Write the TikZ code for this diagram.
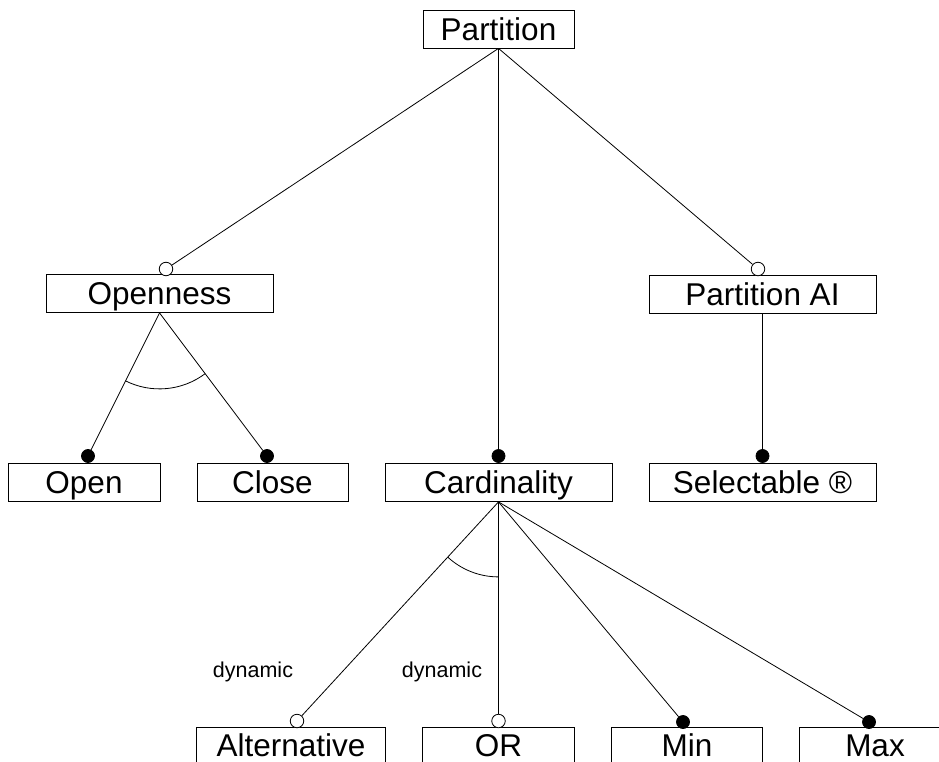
\documentclass[tikz,border=0pt]{standalone}
\usepackage{fontspec}
\setmainfont{Liberation Sans}
\usetikzlibrary{calc}
\begin{document}
\begin{tikzpicture}[x=1pt,y=-1pt,
  boxtext/.style={rectangle, inner sep=0pt,
    minimum height=38pt, text height=22.5pt, text depth=0pt,
    font=\fontsize{31.5}{37}\selectfont},
  box/.style={boxtext, draw, line width=0.8pt},
  opensided/.style={boxtext, minimum height=34pt},
  link/.style={line width=0.8pt},
  ringmark/.style={circle, draw, line width=0.8pt, fill=white, inner sep=0pt, minimum size=13.5pt},
  dotmark/.style={circle, draw, line width=0.8pt, fill=black, inner sep=0pt, minimum size=13pt},
  tag/.style={anchor=base, inner sep=0pt, font=\fontsize{21.5}{26}\selectfont}]
\path[use as bounding box] (0,0) rectangle (939,762);
\clip (0,0) rectangle (939,762);

% feature boxes
\node[box, minimum width=151pt] (partition) at (498.5,29) {Partition};
\node[box, minimum width=227pt] (openness) at (159.5,293.5) {Openness};
\node[box, minimum width=227pt] (pai) at (762.5,294) {Partition AI};
\node[box, minimum width=152pt] (open) at (84,482.5) {Open};
\node[box, minimum width=151pt] (close) at (272.5,482.5) {Close};
\node[box, minimum width=227pt] (card) at (498.5,482.5) {Cardinality};
\node[box, minimum width=227pt] (sel) at (762.5,482.5) {Selectable ®};

% bottom row, running off the lower edge
\node[opensided, minimum width=188pt] (alt) at (291,745) {Alternative};
\node[opensided, minimum width=151pt] (or) at (498.5,745) {OR};
\node[opensided, minimum width=150pt] (min) at (687,745) {Min};
\node[opensided, minimum width=150pt] (max) at (875,745) {Max};
\foreach \b in {alt,or,min,max}
  \draw[link] (\b.south west) |- (\b.north east) -- (\b.south east);

% optional (ring) and mandatory (dot) markers
\node[ringmark] (mOpenness) at (166,269) {};
\node[ringmark] (mPai) at (758,269) {};
\node[dotmark] (mCard) at (498.5,456) {};
\node[dotmark] (mOpen) at (88,456) {};
\node[dotmark] (mClose) at (267,456) {};
\node[dotmark] (mSel) at (762.5,456) {};
\node[ringmark] (mAlt) at (297,721) {};
\node[ringmark] (mOr) at (498.5,721) {};
\node[dotmark] (mMin) at (683,722) {};
\node[dotmark] (mMax) at (869,722) {};

% connectors
\draw[link] (partition.south) -- (mOpenness);
\draw[link] (partition.south) -- (mCard);
\draw[link] (partition.south) -- (mPai);
\draw[link] (pai.south) -- (mSel);
\draw[link] (openness.south) -- (mOpen);
\draw[link] (openness.south) -- (mClose);
\draw[link] (card.south) -- (mAlt);
\draw[link] (card.south) -- (mOr);
\draw[link] (card.south) -- (mMin);
\draw[link] (card.south) -- (mMax);

% group arcs
\draw[link] let \p1=($(mOpen)-(openness.south)$), \p2=($(mClose)-(openness.south)$),
  \n1={atan2(\y1,\x1)}, \n2={atan2(\y2,\x2)} in
  ($(openness.south)!76pt!(mOpen)$) arc[start angle=\n1, end angle=\n2, radius=76pt];
\draw[link] let \p1=($(mAlt)-(card.south)$), \p2=($(mOr)-(card.south)$),
  \n1={atan2(\y1,\x1)}, \n2={atan2(\y2,\x2)} in
  ($(card.south)!75pt!(mAlt)$) arc[start angle=\n1, end angle=\n2, radius=75pt];

% labels
\node[tag] (dynA) at (253,677) {dynamic};
\node[tag] (dynB) at (442,677) {dynamic};
\end{tikzpicture}
\end{document}
